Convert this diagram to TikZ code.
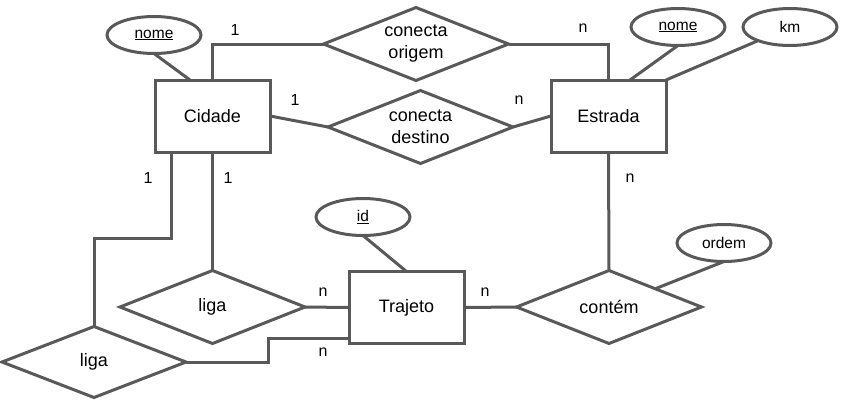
\documentclass[tikz,border=0pt]{standalone}
\usepackage{fontspec}
\setmainfont{Liberation Sans}
\usetikzlibrary{positioning,shapes.geometric}
\definecolor{erline}{HTML}{595959}
\tikzset{
    %Define style for entities
    entity/.style={
           rectangle,
           draw=erline, line width=3pt,
           minimum width=115pt,
           minimum height=72pt,
           outer sep=0pt,
           font=\fontsize{18}{22}\selectfont},
    %Define style for relationships
    relation/.style={
           diamond,
           aspect=2.5,
           draw=erline, line width=3pt,
           inner sep=0pt,
           minimum width=185pt,
           minimum height=73pt,
           outer sep=0pt,
           align=center,
           font=\fontsize{18}{22}\selectfont},
    %Define style for attributes
    attrib/.style={
           ellipse,
           draw=erline, line width=3pt,
           inner sep=0pt,
           minimum width=94pt,
           minimum height=37pt,
           outer sep=0pt,
           font=\fontsize{15.5}{18}\selectfont},
    % Define connector style
    link/.style={
           draw=erline,
           line width=3pt},
    card/.style={
           inner sep=0pt,
           font=\fontsize{16}{18}\selectfont}
}
\begin{document}
\begin{tikzpicture}[x=1pt, y=-1pt]
    \useasboundingbox (0,0) rectangle (841,405);
 %nodes
    \node[entity] (cidade) at (212.5,116) {Cidade};
    \node[entity, right=281pt of cidade] (estrada) {Estrada};
    \node[entity] (trajeto) at (406.5,307.5) {Trajeto};
    \node[relation] (corigem) at (416,44) {conecta\\origem};
    \node[relation] (cdestino) at (420.5,127) {conecta\\destino};
    \node[relation] (contem) at (609,307) {contém};
    \node[relation] (ligaA) at (212.5,307) {liga};
    \node[relation, minimum width=184pt, minimum height=71pt] (ligaB) at (94,362) {liga};
    \node[attrib] (nomecid) at (154,35) {\underline{nome}};
    \node[attrib] (nomeest) at (678,27) {\underline{nome}};
    \node[attrib] (km) at (790,27) {km};
    \node[attrib] (idtraj) at (363,217) {\underline{id}};
    \node[attrib] (ordem) at (724,243) {ordem};
 %cardinalities
    \node[card] (c1) at (235,30) {1};
    \node[card] (c2) at (583,28) {n};
    \node[card] (c3) at (295,100) {1};
    \node[card] (c4) at (519,100) {n};
    \node[card] (c5) at (630,178) {n};
    \node[card] (c6) at (148,178) {1};
    \node[card] (c7) at (228,178) {1};
    \node[card] (c8) at (323,292) {n};
    \node[card] (c9) at (485,292) {n};
    \node[card] (c10) at (323,352) {n};
 %edges
    \draw[link] (cidade.north) |- (corigem.west);
    \draw[link] (corigem.east) -| (estrada.north);
    \draw[link] (cidade.east) -- (cdestino.west);
    \draw[link] (cdestino.east) -- (estrada.west);
    \draw[link] (nomecid.south) -- ([xshift=-22.5pt]cidade.north);
    \draw[link] (nomeest.south) -- ([xshift=21.5pt]estrada.north);
    \draw[link] (km) -- (estrada.north east);
    \draw[link] (estrada.south) -- (contem.north);
    \draw[link] (ordem.south) -- (contem.north east);
    \draw[link] (trajeto.east) -- (contem.west);
    \draw[link] (idtraj.south) -- (trajeto.north);
    \draw[link] (cidade.south) -- (ligaA.north);
    \draw[link] (ligaA.east) -- (trajeto.west);
    \draw[link] (ligaB.north) |- ([shift={(-41.5,86)}]cidade.south) -- ([xshift=-41.5pt]cidade.south);
    \draw[link] (ligaB.east) -- ++(82,0) |- ([yshift=-30.5pt]trajeto.west);
\end{tikzpicture}
\end{document}
